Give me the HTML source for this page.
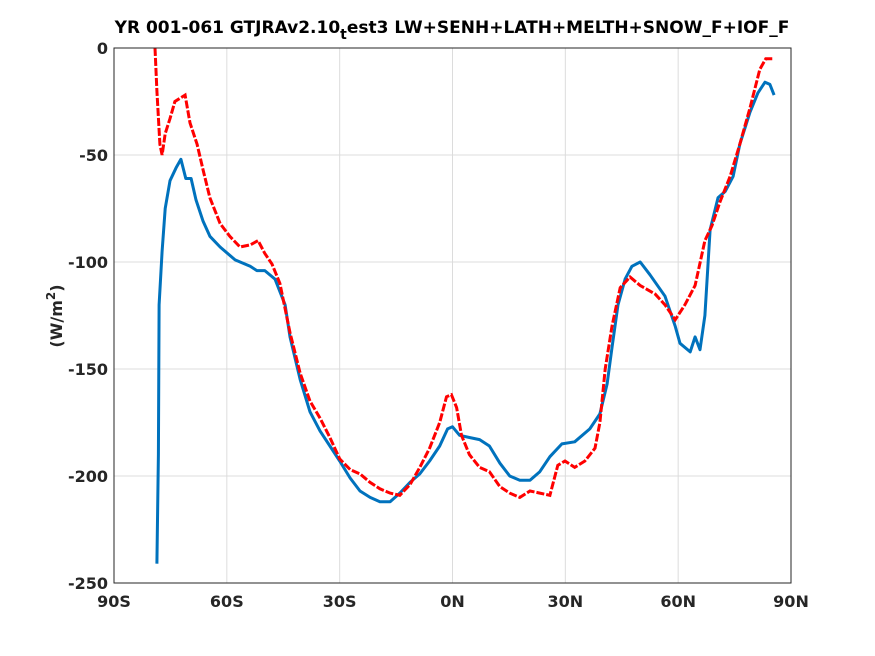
<!DOCTYPE html>
<html><head><meta charset="utf-8"><style>
html,body{margin:0;padding:0;background:#fff;}
svg{display:block;font-family:"DejaVu Sans","Liberation Sans",sans-serif;font-weight:bold;}
</style></head><body>
<svg id="chart" width="875" height="656" viewBox="0 0 875 656">
<rect width="875" height="656" fill="#fff"/>
<text x="452" y="33" font-size="17" text-anchor="middle" fill="#000">YR 001-061 GTJRAv2.10<tspan dy="6" font-size="14">t</tspan><tspan dy="-6">est3 LW+SENH+LATH+MELTH+SNOW_F+IOF_F</tspan></text>
<g id="grid"></g>
<g id="series"></g>
<rect x="114" y="48" width="677" height="535" fill="none" stroke="#262626" stroke-width="1"/>
<g id="ticks"></g>
<text transform="translate(62,316) rotate(-90)" font-size="16" text-anchor="middle" fill="#262626">(W/m<tspan dy="-7" font-size="12">2</tspan><tspan dy="7">)</tspan></text>
</svg>
<script>
const xTicks=[-90,-60,-30,0,30,60,90];
const xTickLabels=["90S","60S","30S","0N","30N","60N","90N"];
const yTicks=[0,-50,-100,-150,-200,-250];
const yTickLabels=["0","-50","-100","-150","-200","-250"];
const blueLat=[-78.6,-78.2,-78,-77.2,-76.4,-75.1,-73.5,-72.2,-70.9,-69.5,-68.2,-66.3,-64.5,-61.8,-57.8,-53.8,-52,-49.9,-47.2,-44.5,-43.2,-40.5,-37.9,-35.2,-32.6,-30,-27.2,-24.6,-21.9,-19.3,-16.6,-14,-11.3,-8.7,-6.1,-3.4,-1.3,0,1.9,4.5,7.2,9.8,12.6,15.2,17.9,20.6,23.2,25.9,29.1,32.5,36.5,39.2,41.1,42.4,44,45.9,47.7,49.9,52.5,56.5,59.2,60.5,63.2,64.5,65.8,67.1,68.5,70.6,72.5,74.6,76.4,79.1,81.2,83.1,84.4,85.5];
const blueVal=[-241,-190,-120,-95,-75,-62,-56,-52,-61,-61,-71,-81,-88,-93,-99,-102,-104,-104,-108,-120,-135,-155,-170,-179,-186,-193,-201,-207,-210,-212,-212,-208,-203,-199,-193,-186,-178,-177,-181,-182,-183,-186,-194,-200,-202,-202,-198,-191,-185,-184,-178,-171,-157,-140,-120,-108,-102,-100,-106,-116,-130,-138,-142,-135,-141,-125,-85,-70,-67,-60,-45,-30,-21,-16,-17,-22];
const redLat=[-79.1,-78.6,-77.8,-77.2,-76.4,-75.1,-73.8,-71.1,-69.8,-67.9,-66.3,-64.5,-61.8,-59.2,-56.5,-53.8,-51.7,-49.9,-48,-45.9,-43.2,-40.5,-37.9,-35.2,-32.6,-30,-27.2,-24.6,-21.9,-19.3,-16.6,-14,-11.3,-8.7,-6.1,-3.4,-1.6,-0.3,1.1,2.4,4.5,7.2,9.8,12.6,15.2,17.9,20.6,23.2,25.9,28,29.9,32.5,35.2,37.9,39.2,40.6,42.4,44.6,47.2,49.9,53.9,56.5,59.2,61.8,64.5,67.1,69,71.1,73.8,76.4,79.1,81.7,83.3,85.5];
const redVal=[0,-20,-45,-50,-40,-33,-25,-22,-35,-45,-57,-70,-82,-88,-93,-92,-90,-96,-101,-110,-133,-152,-165,-173,-182,-192,-197,-199,-203,-206,-208,-209,-204,-196,-187,-175,-163,-162,-168,-181,-190,-196,-198,-205,-208,-210,-207,-208,-209,-195,-193,-196,-193,-187,-175,-150,-130,-112,-107,-111,-115,-120,-127,-120,-111,-90,-83,-72,-60,-45,-28,-10,-5,-5];

const NS="http://www.w3.org/2000/svg";
const X0=114,X1=791,Y0=48,Y1=583;
function xs(v){return X0+(v+90)/180*(X1-X0);}
function ys(v){return Y0+(0-v)/250*(Y1-Y0);}
function mk(tag,attrs,parent){const e=document.createElementNS(NS,tag);for(const k in attrs)e.setAttribute(k,attrs[k]);parent.appendChild(e);return e;}
const grid=document.getElementById('grid'),ticks=document.getElementById('ticks'),series=document.getElementById('series');
xTicks.forEach((t,i)=>{
  const x=xs(t);
  const g=mk('line',{x1:x,x2:x,y1:Y0,y2:Y1,stroke:'#dcdcdc','stroke-width':1},grid);
  
  
  const tl=mk('text',{x:x,y:Y1+24,'font-size':16,'text-anchor':'middle',fill:'#262626'},ticks);
  tl.textContent=xTickLabels[i];
  
  
});
yTicks.forEach((t,i)=>{
  const y=ys(t);
  const g=mk('line',{x1:X0,x2:X1,y1:y,y2:y,stroke:'#dcdcdc','stroke-width':1},grid);
  
  
  const tl=mk('text',{x:X0-6,y:y+6,'font-size':16,'text-anchor':'end',fill:'#262626'},ticks);
  tl.textContent=yTickLabels[i];
  
  
});
function pts(la,va){return la.map((l,i)=>xs(l).toFixed(1)+','+ys(va[i]).toFixed(1)).join(' ');}
const bl=mk('polyline',{points:pts(blueLat,blueVal),fill:'none',stroke:'#0072bd','stroke-width':3,'stroke-linejoin':'round'},series);


const rl=mk('polyline',{points:pts(redLat,redVal),fill:'none',stroke:'#ff0000','stroke-width':3,'stroke-dasharray':'8,2'},series);


</script>
</body></html>
